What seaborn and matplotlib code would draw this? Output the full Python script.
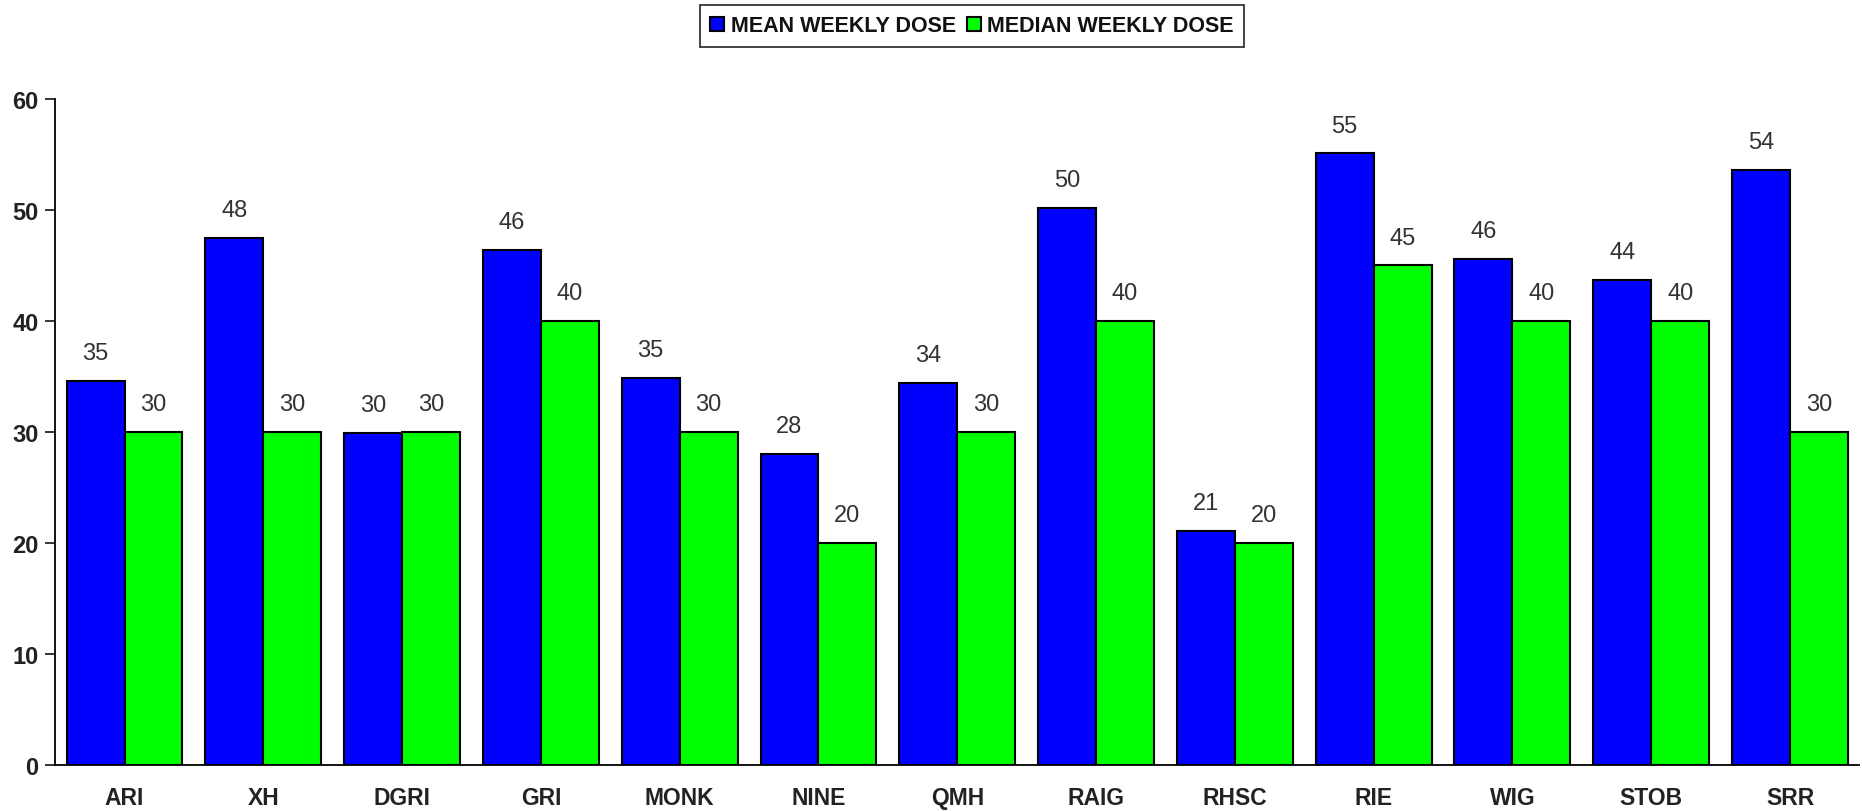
import pandas as pd
import matplotlib
matplotlib.use("Agg")
import matplotlib.pyplot as plt
import seaborn as sns
from matplotlib.ticker import FixedLocator

# --- data ---
sites = ["ARI", "XH", "DGRI", "GRI", "MONK", "NINE", "QMH",
         "RAIG", "RHSC", "RIE", "WIG", "STOB", "SRR"]
mean_dose = [34.6, 47.5, 29.9, 46.4, 34.9, 28.0, 34.4,
             50.2, 21.1, 55.1, 45.6, 43.7, 53.6]
median_dose = [30, 30, 30, 40, 30, 20, 30,
               40, 20, 45, 40, 40, 30]
series_names = ["MEAN WEEKLY DOSE", "MEDIAN WEEKLY DOSE"]
series_colors = ["#0000FF", "#00FF00"]
y_ticks = [0, 10, 20, 30, 40, 50, 60]

df = pd.DataFrame({
    "site": sites * 2,
    "dose": mean_dose + median_dose,
    "series": [series_names[0]] * len(sites) + [series_names[1]] * len(sites),
})

sns.set_style("white")
plt.rcParams['font.family'] = ['Liberation Sans Narrow', 'Liberation Sans', 'DejaVu Sans']

fig = plt.figure(figsize=(18.62, 8.12), dpi=100)
ax = fig.add_axes([0.0296, 0.0567, 0.969, 0.8203])

sns.barplot(data=df, x="site", y="dose", hue="series", order=sites,
            hue_order=series_names, palette=series_colors, width=0.835,
            edgecolor="black", linewidth=1.5, saturation=1, errorbar=None, ax=ax)

# value labels above each bar
for cont in ax.containers:
    labels = [f"{b.get_height():.0f}" for b in cont]
    ax.bar_label(cont, labels=labels, padding=12, fontsize=17,
                 color="#333333", family=['Liberation Sans', 'DejaVu Sans'])

ax.set_ylim(0, 60)
ax.set_xlim(-0.5, len(sites) - 0.5)
ax.set_yticks(y_ticks)
ax.set_xlabel("")
ax.set_ylabel("")

# x tick marks between categories, labels centred without marks
ax.xaxis.set_minor_locator(FixedLocator([i - 0.5 for i in range(len(sites) + 1)]))
ax.tick_params(axis="x", which="major", length=0, pad=15, labelsize=16.5,
               labelcolor="#222222")
ax.tick_params(axis="x", which="minor", length=7, width=1.3, direction="out",
               color="black")
ax.tick_params(axis="y", length=7, width=1.3, direction="out", pad=5,
               labelsize=17, labelcolor="#222222", left=True)
for lab in ax.get_xticklabels() + ax.get_yticklabels():
    lab.set_fontweight("bold")

sns.despine(ax=ax)
for side in ["left", "bottom"]:
    ax.spines[side].set_linewidth(1.3)
    ax.spines[side].set_color("black")

leg = ax.legend(loc="upper center", bbox_to_anchor=(0.522, 0.993),
                bbox_transform=fig.transFigure, ncol=2, frameon=True,
                fancybox=False, handlelength=0.65, handleheight=0.65,
                handletextpad=0.3, columnspacing=0.5, borderpad=0.5,
                borderaxespad=0, prop={"size": 15.5, "weight": "bold"})
leg.get_frame().set_edgecolor("black")
leg.get_frame().set_linewidth(1.3)
for t in leg.get_texts():
    t.set_color("#111111")

fig.savefig("out.png", dpi=100)
